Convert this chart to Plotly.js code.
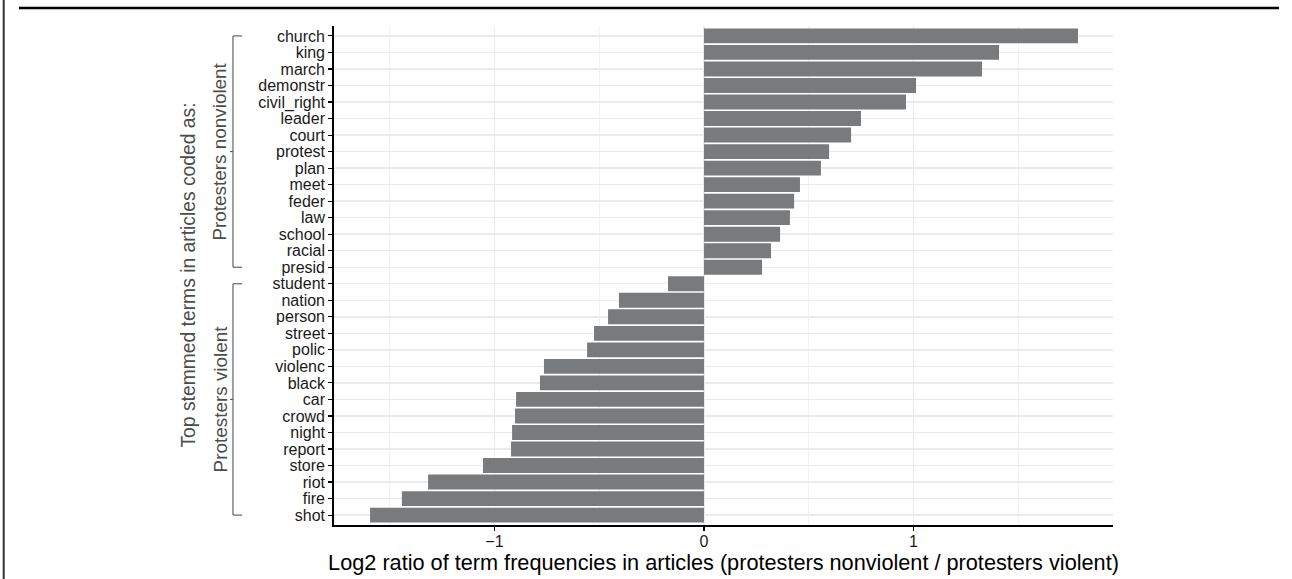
<!DOCTYPE html>
<html>
<head>
<meta charset="utf-8">
<script src="https://cdn.plot.ly/plotly-3.0.1.min.js"></script>
<style>
  html, body { margin: 0; padding: 0; background: #ffffff; }
  #chart { width: 1292px; height: 579px; }
</style>
</head>
<body>
<div id="chart"></div>
<script>
// Terms, top to bottom
const terms = ["church","king","march","demonstr","civil_right","leader","court","protest","plan","meet","feder","law","school","racial","presid",
               "student","nation","person","street","polic","violenc","black","car","crowd","night","report","store","riot","fire","shot"];
// Log2 ratio values
const log2Ratio = [1.785,1.408,1.327,1.012,0.964,0.749,0.702,0.597,0.558,0.458,0.430,0.410,0.363,0.320,0.277,
                   -0.172,-0.406,-0.458,-0.525,-0.558,-0.764,-0.783,-0.897,-0.902,-0.916,-0.921,-1.055,-1.317,-1.442,-1.594];
const groupLabels = ["Protesters nonviolent","Protesters violent"];
const groupFirst = ["church","student"];
const groupLast = ["presid","shot"];
const xTickVals = [-1,0,1];
const xTickText = ["\u22121","0","1"];
const xMinorVals = [-1.5,-0.5,0.5,1.5];

const font = "Liberation Sans, Arial, Helvetica, sans-serif";

const trace = {
  type: "bar",
  orientation: "h",
  x: log2Ratio,
  y: terms,
  marker: { color: "#797a7c", line: { width: 0 } },
  hoverinfo: "x+y"
};

// bracket geometry (paper x)
const xV = -0.1297, xR = -0.1181, xL = -0.1335, xLab = -0.1463;
const shapes = [];
const annotations = [];
for (let g = 0; g < groupLabels.length; g++) {
  const i0 = terms.indexOf(groupFirst[g]);
  const i1 = terms.indexOf(groupLast[g]);
  const mid = (i0 + i1) / 2;
  const ln = { color: "#555555", width: 1.1 };
  shapes.push({ type: "line", xref: "paper", yref: "y", x0: xV, x1: xV, y0: i0, y1: i1, line: ln });
  shapes.push({ type: "line", xref: "paper", yref: "y", x0: xV, x1: xR, y0: i0, y1: i0, line: ln });
  shapes.push({ type: "line", xref: "paper", yref: "y", x0: xV, x1: xR, y0: i1, y1: i1, line: ln });
  shapes.push({ type: "line", xref: "paper", yref: "y", x0: xL, x1: xV, y0: mid, y1: mid, line: ln });
  annotations.push({ xref: "paper", yref: "y", x: xLab, y: mid, text: groupLabels[g], textangle: -90,
    showarrow: false, xanchor: "center", yanchor: "middle", font: { family: font, size: 18.9, color: "#4d4d4d" } });
}
// outer frame lines
shapes.push({ type: "line", xref: "paper", yref: "paper", x0: -0.4044, x1: 1.2131, y0: 1.0361, y1: 1.0361, line: { color: "#000000", width: 2.7 } });
shapes.push({ type: "line", xref: "paper", yref: "paper", x0: -0.4240, x1: -0.4240, y0: -0.12, y1: 1.06, line: { color: "#333333", width: 2 } });

annotations.push({ xref: "paper", yref: "paper", x: -0.1874, y: 0.5, text: "Top stemmed terms in articles coded as:", textangle: -90,
  showarrow: false, xanchor: "center", yanchor: "middle", font: { family: font, size: 19.3, color: "#4d4d4d" } });

const layout = {
  width: 1292, height: 579,
  margin: { l: 334, r: 179, t: 26, b: 54, pad: 0 },
  paper_bgcolor: "#ffffff", plot_bgcolor: "#ffffff",
  showlegend: false,
  bargap: 0.1,
  font: { family: font, size: 16, color: "#1a1a1a" },
  xaxis: {
    range: [-1.766, 1.952],
    tickvals: xTickVals, ticktext: xTickText,
    ticks: "outside", ticklen: 4, tickwidth: 1.1, tickcolor: "#000000",
    showline: true, linecolor: "#000000", linewidth: 1.8,
    showgrid: true, gridcolor: "#ebebeb", gridwidth: 1.4,
    minor: { tickvals: xMinorVals, showgrid: true, gridcolor: "#efefef", gridwidth: 0.8, ticks: "" },
    zeroline: false,
    tickfont: { family: font, size: 16, color: "#1a1a1a" },
    ticklabelstandoff: -3,
    title: { text: "Log2 ratio of term frequencies in articles (protesters nonviolent / protesters violent)",
             font: { family: font, size: 21.7, color: "#000000" }, standoff: 2 },
    fixedrange: true
  },
  yaxis: {
    type: "category",
    categoryorder: "array", categoryarray: terms,
    tickmode: "array", tickvals: terms, ticktext: terms,
    range: [29.6, -0.6],
    ticks: "outside", ticklen: 4, tickwidth: 1.1, tickcolor: "#000000",
    showline: true, linecolor: "#000000", linewidth: 1.8,
    showgrid: true, gridcolor: "#ebebeb", gridwidth: 1.4,
    zeroline: false,
    tickfont: { family: font, size: 16, color: "#1a1a1a" },
    ticklabelstandoff: 0,
    fixedrange: true
  },
  shapes: shapes,
  annotations: annotations
};

Plotly.newPlot("chart", [trace], layout, { displayModeBar: false, staticPlot: true });
</script>
</body>
</html>
